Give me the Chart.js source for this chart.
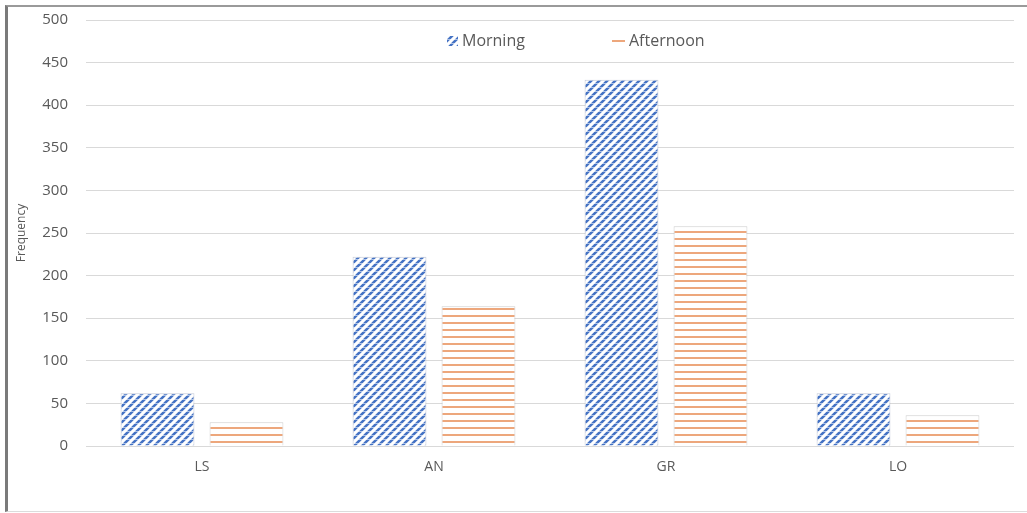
<!DOCTYPE html>
<html>
<head>
<meta charset="utf-8">
<script src="https://cdn.jsdelivr.net/npm/chart.js@4.4.1/dist/chart.umd.min.js"></script>
<style>
  html, body { margin: 0; padding: 0; background: #ffffff; }
  #wrap { position: relative; width: 1027px; height: 513px; overflow: hidden; }
  #frame {
    position: absolute; left: 5px; top: 5px; width: 1030px; height: 507px;
    border-top: 2px solid #9a9a9a; border-left: 3px solid #7a7a7a; border-bottom: 1px solid #dcdcdc;
    box-sizing: border-box;
  }
  #c { position: absolute; left: 0; top: 0; }
</style>
</head>
<body>
<div id="wrap">
  <div id="frame"></div>
  <canvas id="c" width="1027" height="513"></canvas>
</div>
<script>
// Observation sites and counts per session
const categories = ['LS', 'AN', 'GR', 'LO'];
const morning = [62, 222, 430, 62];
const afternoon = [28, 164, 258, 36];
const seriesNames = ['Morning', 'Afternoon'];
const yTicks = [0, 50, 100, 150, 200, 250, 300, 350, 400, 450, 500];

const BLUE = '#4472c4';
const ORANGE = '#eda77c';
const TEXT = '#595959';

// Dashed upward-diagonal hatch for the morning bars
function diagPattern(ctx) {
  const t = document.createElement('canvas');
  t.width = 8; t.height = 8;
  const g = t.getContext('2d');
  g.fillStyle = '#ffffff';
  g.fillRect(0, 0, 8, 8);
  g.strokeStyle = BLUE;
  g.lineWidth = 2.6;
  g.beginPath();
  g.moveTo(-2, 10); g.lineTo(10, -2);
  g.moveTo(-6, 6); g.lineTo(6, -6);
  g.moveTo(2, 14); g.lineTo(14, 2);
  g.stroke();
  g.fillStyle = 'rgba(255,255,255,0.55)';
  g.fillRect(0, 3, 8, 1);
  g.fillRect(0, 7, 8, 1);
  return ctx.createPattern(t, 'repeat');
}

// Horizontal-line hatch for the afternoon bars
function horizPattern(ctx) {
  const t = document.createElement('canvas');
  t.width = 4; t.height = 7;
  const g = t.getContext('2d');
  g.fillStyle = '#ffffff';
  g.fillRect(0, 0, 4, 7);
  g.fillStyle = ORANGE;
  g.fillRect(0, 0, 4, 2);
  return ctx.createPattern(t, 'repeat');
}

const canvas = document.getElementById('c');
const ctx = canvas.getContext('2d');
const morningFill = diagPattern(ctx);
const afternoonFill = horizPattern(ctx);

// Legend drawn inside the plot area, above the bars
const innerLegend = {
  id: 'innerLegend',
  afterDraw(chart) {
    const { ctx, chartArea } = chart;
    const y = 41;
    const x1 = chartArea.left + 361;
    const x2 = chartArea.left + 526;
    ctx.save();
    ctx.font = '16px "Open Sans"';
    ctx.textBaseline = 'middle';
    // morning marker
    ctx.fillStyle = morningFill;
    ctx.fillRect(x1, y - 5, 11, 10);
    ctx.fillStyle = TEXT;
    ctx.fillText(chart.data.datasets[0].label, x1 + 15, y);
    // afternoon marker
    ctx.fillStyle = ORANGE;
    ctx.fillRect(x2, y - 1, 13, 2);
    ctx.fillStyle = TEXT;
    ctx.fillText(chart.data.datasets[1].label, x2 + 17, y);
    ctx.restore();
  }
};

new Chart(canvas, {
  type: 'bar',
  data: {
    labels: categories,
    datasets: [
      {
        label: seriesNames[0],
        data: morning,
        backgroundColor: morningFill,
        borderColor: 'rgba(150,160,185,0.55)',
        borderWidth: 1,
        categoryPercentage: 0.767,
        barPercentage: 0.83
      },
      {
        label: seriesNames[1],
        data: afternoon,
        backgroundColor: afternoonFill,
        borderColor: 'rgba(170,170,170,0.55)',
        borderWidth: 1,
        categoryPercentage: 0.767,
        barPercentage: 0.83
      }
    ]
  },
  options: {
    responsive: false,
    animation: false,
    devicePixelRatio: 1,
    layout: { padding: { left: 14, top: 20, right: 13, bottom: 0 } },
    plugins: {
      legend: { display: false },
      tooltip: { enabled: false }
    },
    scales: {
      x: {
        grid: { display: false },
        border: { display: false },
        ticks: { color: TEXT, font: { family: 'Open Sans', size: 14 }, padding: 5 },
        afterFit(scale) { scale.height = 67; scale.paddingLeft = 0; scale.paddingRight = 0; }
      },
      y: {
        min: 0,
        max: 500,
        afterBuildTicks(scale) { scale.ticks = yTicks.map(v => ({ value: v })); },
        grid: { color: '#d9d9d9', lineWidth: 1, drawTicks: false },
        border: { display: false },
        ticks: { color: TEXT, font: { family: 'Open Sans', size: 15 }, padding: 18 },
        title: {
          display: true,
          text: 'Frequency',
          color: TEXT,
          font: { family: 'Open Sans', size: 12 },
          padding: 0
        },
        afterFit(scale) { scale.width = 72; scale.paddingTop = 0; scale.paddingBottom = 0; }
      }
    }
  },
  plugins: [innerLegend]
});
</script>
</body>
</html>
